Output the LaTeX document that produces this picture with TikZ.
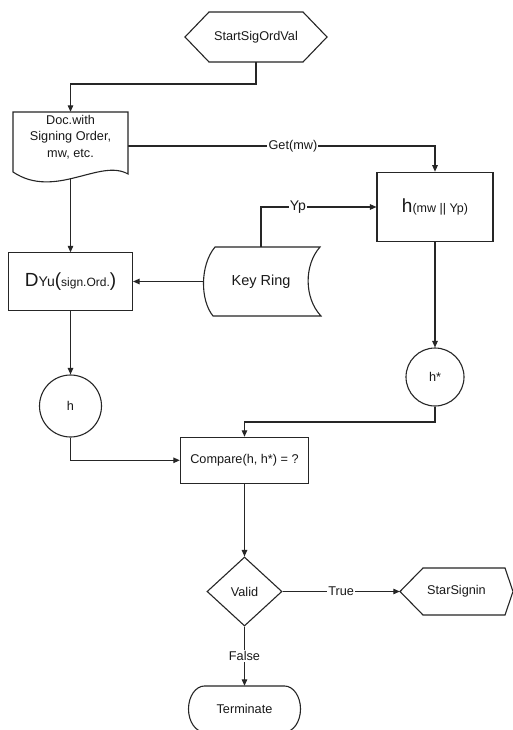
\documentclass[tikz,border=0pt]{standalone}
\usepackage{fontspec}
\setmainfont{Liberation Sans}
\usetikzlibrary{arrows.meta,shapes.geometric,backgrounds,calc}
\newcommand{\fsz}[1]{\fontsize{#1}{#1}\selectfont}
\begin{document}
\begin{tikzpicture}[x=1pt,y=-1pt,
  every node/.style={inner sep=0pt, font=\fontsize{12.7}{16.5}\selectfont, text=black!90},
  shapeline/.style={draw=black!85, line width=1.1pt, fill=white},
  rectbox/.style={shapeline, rectangle},
  conn/.style={draw=black!85, line width=1.1pt, -{Triangle[length=6.5pt,width=5.5pt]}},
  lbl/.style={fill=white, inner sep=1.2pt}]
\useasboundingbox (0,0) rectangle (512,730);
% start hexagon
\path[shapeline] (185,37) -- (209,12) -- (303,12) -- (327,37) -- (303,62) -- (209,62) -- cycle;
\node[minimum width=142, minimum height=50] (start) at (256,37) {StartSigOrdVal};
% document
\path[shapeline] (13,172) -- (13,112) -- (128,112) -- (128,174) .. controls (100,158) and (55,200) .. (13,172) -- cycle;
\node[minimum width=115, minimum height=50, align=center] (doc) at (70.5,137) {Doc.with\\Signing Order,\\mw, etc.};
% hash box
\node[rectbox, minimum width=116, minimum height=69.5] (hbox) at (435,207) {{\fsz{19}h}{\fsz{12.5}(mw || Yp)}};
% key ring (stored data)
\path[shapeline] (215,247) -- (320,247) .. controls (304,265) and (304,298) .. (321,316) -- (213,316) .. controls (200,300) and (200,265) .. (215,247) -- cycle;
\node[minimum width=114, minimum height=69] (keyring) at (261,281.5) {\fsz{14.5}Key Ring};
% decrypt box
\node[rectbox, minimum width=124, minimum height=57.3] (dbox) at (70.5,281.5) {{\fsz{19}D}{\fsz{14}Yu}{\fsz{19}(}{\fsz{12}sign.Ord.}{\fsz{19})}};
% circles
\node[shapeline, circle, minimum size=62] (hc) at (70.5,406) {h};
\node[shapeline, circle, minimum size=58] (hs) at (435,377) {h*};
% compare
\node[rectbox, minimum width=128.3, minimum height=46] (cmp) at (244.5,460.3) {Compare(h, h*) = ?};
% decision
\node[shapeline, diamond, minimum width=75, minimum height=69, aspect=1.087] (valid) at (244.5,591.5) {Valid};
% StarSignin hexagon
\path[shapeline] (400,591.5) -- (423,568) -- (505,568) -- (513,591.5) -- (505,615) -- (423,615) -- cycle;
\node[minimum width=113, minimum height=47] (star) at (456.5,591.5) {StarSignin};
% terminate
\path[shapeline] (204.5,686) -- (284.5,686) arc[start angle=-90,end angle=90,x radius=16,y radius=23] -- (204.5,732) arc[start angle=90,end angle=270,x radius=16,y radius=23] -- cycle;
\node[minimum width=112, minimum height=46] (term) at (244.5,709) {Terminate};
% connectors
\begin{scope}[on background layer]
\fill[white] (0,0) rectangle (512,730);
\coordinate (c1) at (256,84);
\draw[conn] (start.south) -- (c1) -| (doc.north);
\coordinate (g1) at (435,146);
\draw[conn] (doc.east |- g1) -- node[lbl, pos=0.537]{Get(mw)} (g1) -- (hbox.north);
\draw[conn] (doc.south) -- (dbox.north);
\draw[conn] (keyring.north) |- node[lbl, pos=0.66]{\fsz{14}Yp} (hbox.west);
\draw[conn] (keyring.west) -- (dbox.east);
\draw[conn] (dbox.south) -- (hc.north);
\draw[conn] (hbox.south) -- (hs.north);
\coordinate (j1) at (435,422);
\draw[conn] (hs.south) -- (j1) -| (cmp.north);
\draw[conn] (hc.south) |- (cmp.west);
\draw[conn] (cmp.south) -- (valid.north);
\draw[conn] (valid.east) -- node[lbl]{True} (star.west);
\draw[conn] (valid.south) -- node[lbl]{False} (term.north);
\end{scope}
\end{tikzpicture}
\end{document}
